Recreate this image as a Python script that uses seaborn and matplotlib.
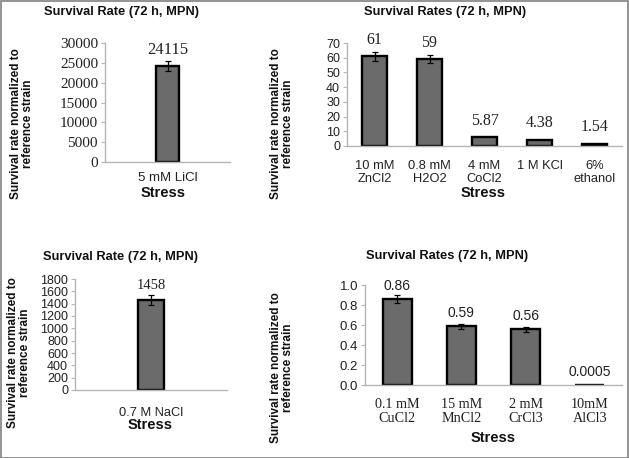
import matplotlib
matplotlib.use("Agg")
import matplotlib.pyplot as plt
import matplotlib.ticker as mticker
from matplotlib.patches import Rectangle
import seaborn as sns
import pandas as pd

sns.set_theme(style="white")

# ---- data ----
cats1 = ["5 mM LiCl"]
vals1 = [24115]
err1 = [1250]
labels1 = ["24115"]

cats2 = ["10 mM\nZnCl2", "0.8 mM\nH2O2", "4 mM\nCoCl2", "1 M KCl", "6%\nethanol"]
vals2 = [61, 59, 5.87, 4.38, 1.54]
err2 = [3.2, 2.8, 0, 0, 0]
labels2 = ["61", "59", "5.87", "4.38", "1.54"]

cats3 = ["0.7 M NaCl"]
vals3 = [1458]
err3 = [80]
labels3 = ["1458"]

cats4 = ["0.1 mM\nCuCl2", "15 mM\nMnCl2", "2 mM\nCrCl3", "10mM\nAlCl3"]
vals4 = [0.86, 0.59, 0.56, 0.0005]
err4 = [0.04, 0.025, 0.025, 0]
labels4 = ["0.86", "0.59", "0.56", "0.0005"]

SERIF = "Liberation Serif"
SANS = "Liberation Sans"
BAR = "#6b6b6b"
SPINE = "#b5b5b5"

W, H = 629, 458
fig = plt.figure(figsize=(W / 100, H / 100), dpi=100)


def fx(px):
    return px / W


def fy(py):
    return 1 - py / H


def panel(rect_px, cats, vals, errs, labels, ymax, ystep, bar_w,
          tick_font, tick_size, cat_font, cat_size, lab_font, lab_size,
          cat_pad, yfmt=None, lab_off=6):
    x0, x1, ytop, ybot = rect_px
    ax = fig.add_axes([fx(x0), fy(ybot), fx(x1 - x0), (ybot - ytop) / H])
    df = pd.DataFrame({"cat": cats, "val": vals})
    sns.barplot(data=df, x="cat", y="val", color=BAR, saturation=1,
                edgecolor="black", linewidth=1.7, width=bar_w,
                errorbar=None, ax=ax)
    for p, v, e, lab in zip(ax.patches, vals, errs, labels):
        xc = p.get_x() + p.get_width() / 2
        if e > 0:
            ax.errorbar(xc, v, yerr=e, fmt="none", ecolor="black",
                        elinewidth=0.9, capsize=2.5, capthick=0.9)
        ax.annotate(lab, (xc, v), xytext=(0, lab_off), textcoords="offset points",
                    ha="center", va="bottom", fontfamily=lab_font,
                    fontsize=lab_size, color="#222222")
    ax.set_xlim(-0.5, len(cats) - 0.5)
    ax.set_ylim(0, ymax)
    ax.yaxis.set_major_locator(mticker.MultipleLocator(ystep))
    if yfmt:
        ax.yaxis.set_major_formatter(mticker.FormatStrFormatter(yfmt))
    ax.set_xlabel("")
    ax.set_ylabel("")
    for s in ["top", "right"]:
        ax.spines[s].set_visible(False)
    for s in ["left", "bottom"]:
        ax.spines[s].set_color(SPINE)
        ax.spines[s].set_linewidth(1.0)
    ax.tick_params(axis="y", left=True, length=3, width=0.8, color=SPINE,
                   pad=2, labelsize=tick_size, labelcolor="#222222")
    ax.tick_params(axis="x", bottom=False, length=0, pad=cat_pad,
                   labelsize=cat_size, labelcolor="#222222")
    for t in ax.get_yticklabels():
        t.set_fontfamily(tick_font)
    for t in ax.get_xticklabels():
        t.set_fontfamily(cat_font)
        t.set_linespacing(1.1)
    ax.set_facecolor("white")
    return ax


panel((105, 230, 43, 162), cats1, vals1, err1, labels1, 30000, 5000, 0.18,
      SERIF, 11, SANS, 9.5, SERIF, 12, 7)
panel((347, 622, 43, 146), cats2, vals2, err2, labels2, 70, 10, 0.47,
      SANS, 9, SANS, 9.3, SERIF, 11.5, 10)
panel((75, 227, 279, 390), cats3, vals3, err3, labels3, 1800, 200, 0.165,
      SANS, 9, SANS, 9.3, SERIF, 10.5, 12)
panel((365, 622, 285, 385), cats4, vals4, err4, labels4, 1.0, 0.2, 0.45,
      SANS, 9.5, SERIF, 10.2, SANS, 10, 9.5, yfmt="%.1f", lab_off=4)

# titles
title_kw = dict(ha="center", va="center", fontfamily=SANS, fontweight="bold",
                fontsize=9.3, color="#111111")
fig.text(fx(122), fy(12), "Survival Rate (72 h, MPN)", **title_kw)
fig.text(fx(445), fy(12), "Survival Rates (72 h, MPN)", **title_kw)
fig.text(fx(120), fy(257), "Survival Rate (72 h, MPN)", **title_kw)
fig.text(fx(447), fy(256), "Survival Rates (72 h, MPN)", **title_kw)

# y labels
ylab = "Survival rate normalized to\nreference strain"
ykw = dict(ha="center", va="center", rotation=90, fontfamily=SANS,
           fontweight="bold", fontsize=8.5, color="#111111",
           multialignment="center", linespacing=1.0)
fig.text(fx(22), fy(124), ylab, **ykw)
fig.text(fx(282), fy(124), ylab, **ykw)
fig.text(fx(19), fy(353), ylab, **ykw)
fig.text(fx(282), fy(368), ylab, **ykw)

# x labels
xkw = dict(ha="center", va="center", fontfamily=SANS, fontweight="bold",
           fontsize=10.5, color="#111111")
fig.text(fx(163), fy(193), "Stress", **xkw)
fig.text(fx(483), fy(193), "Stress", **xkw)
fig.text(fx(150), fy(425), "Stress", **xkw)
fig.text(fx(493), fy(438), "Stress", **xkw)

# outer border
fig.patches.append(Rectangle((0.001, 0.001), 0.997, 0.997, transform=fig.transFigure,
                             fill=False, edgecolor="#808080", linewidth=1.2))

fig.savefig("out.png", dpi=100, facecolor="white")
